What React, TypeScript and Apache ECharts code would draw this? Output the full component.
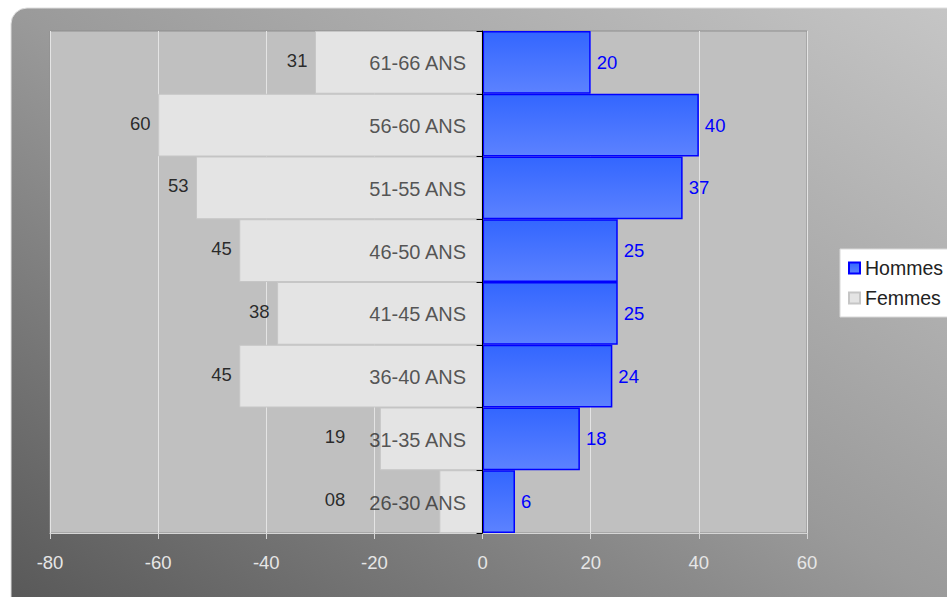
import React, { useEffect, useRef } from "react";
import * as echarts from "echarts";

// Age groups, bottom to top
const categories = [
  "26-30 ANS",
  "31-35 ANS",
  "36-40 ANS",
  "41-45 ANS",
  "46-50 ANS",
  "51-55 ANS",
  "56-60 ANS",
  "61-66 ANS",
];
const hommes = [6, 18, 24, 25, 25, 37, 40, 20];
const femmes = [8, 19, 45, 38, 45, 53, 60, 31];

const axisMin = -80;
const axisMax = 60;
const axisStep = 20;

// Women's value labels never come closer to the centre line than this,
// so they stay clear of the age-group labels.
const femmesLabelFloor = 24;

export default function App() {
  const ref = useRef<HTMLDivElement>(null);

  useEffect(() => {
    if (!ref.current) return;
    const chart = echarts.init(ref.current, null, { renderer: "svg" });
    const font = "Arial, 'Liberation Sans', sans-serif";

    chart.setOption({
      animation: false,
      backgroundColor: "#ffffff",
      textStyle: { fontFamily: font },
      graphic: [
        {
          type: "rect",
          z: -100,
          silent: true,
          shape: { x: 11, y: 8, width: 952, height: 605, r: 16 },
          style: {
            fill: new echarts.graphic.LinearGradient(0, 1, 1, 0, [
              { offset: 0, color: "#575757" },
              { offset: 0.5, color: "#9a9a9a" },
              { offset: 1, color: "#c6c6c6" },
            ]),
            stroke: "#dedede",
            lineWidth: 1,
          },
        },
      ],
      legend: {
        data: ["Hommes", "Femmes"],
        orient: "vertical",
        left: 840,
        top: 249,
        backgroundColor: "#ffffff",
        borderColor: "#d8d8d8",
        borderWidth: 1,
        padding: [9, 8, 9, 8],
        itemWidth: 11,
        itemHeight: 11,
        itemGap: 10,
        icon: "rect",
        textStyle: { color: "#222222", fontSize: 19.5, fontFamily: font },
      },
      grid: {
        left: 50,
        right: 140,
        top: 31,
        bottom: 64,
        containLabel: false,
        outerBoundsMode: "none",
        show: true,
        backgroundColor: "#c0c0c0",
        borderColor: "#8e8e8e",
        borderWidth: 1,
      },
      xAxis: {
        type: "value",
        min: axisMin,
        max: axisMax,
        interval: axisStep,
        axisLine: { show: true, onZero: false, lineStyle: { color: "#d6d6d6" } },
        axisTick: { show: true, length: 6, lineStyle: { color: "#d6d6d6" } },
        axisLabel: { color: "#e6e6e6", fontSize: 18.5, margin: 20, fontFamily: font },
        splitLine: { show: true, lineStyle: { color: "#e4e4e4", width: 1 } },
      },
      yAxis: {
        type: "category",
        data: categories,
        z: 10,
        axisLine: { show: true, onZero: true, lineStyle: { color: "#000000", width: 1 } },
        axisTick: { show: true, length: 6, lineStyle: { color: "#000000" } },
        axisLabel: { show: false },
        splitLine: { show: false },
      },
      series: [
        {
          name: "Hommes",
          type: "bar",
          data: hommes,
          barWidth: "100%",
          barGap: "-100%",
          itemStyle: {
            color: new echarts.graphic.LinearGradient(0, 0, 0, 1, [
              { offset: 0, color: "#3366ff" },
              { offset: 1, color: "#5c82ff" },
            ]),
            borderColor: "#0000ff",
            borderWidth: 1.5,
          },
          label: {
            show: true,
            position: "right",
            distance: 6,
            color: "#0000ff",
            fontSize: 18.5,
            fontFamily: font,
          },
        },
        {
          name: "Femmes",
          type: "bar",
          data: femmes.map((v) => -v),
          barWidth: "100%",
          barGap: "-100%",
          itemStyle: {
            color: "#e4e4e4",
            borderColor: "#c6c6c6",
            borderWidth: 1,
          },
          label: { show: false },
        },
        {
          // women's values, written beside each bar
          name: "Femmes valeurs",
          type: "scatter",
          data: femmes.map((v, i) => [-Math.max(v, femmesLabelFloor), i]),
          symbolSize: 1,
          itemStyle: { color: "rgba(0,0,0,0)" },
          z: 5,
          label: {
            show: true,
            position: "left",
            distance: 7,
            offset: [0, -2],
            color: "#000000",
            fontSize: 18.5,
            fontFamily: font,
            formatter: (p: any) => String(femmes[p.dataIndex]).padStart(2, "0"),
          },
        },
        {
          // age-group names, set against the centre line
          name: "Tranches",
          type: "scatter",
          data: categories.map((_, i) => [0, i]),
          symbolSize: 1,
          itemStyle: { color: "rgba(0,0,0,0)" },
          z: 6,
          label: {
            show: true,
            position: "left",
            distance: 16,
            offset: [0, 1],
            color: "#2e2e2e",
            fontSize: 20,
            fontFamily: font,
            formatter: (p: any) => categories[p.dataIndex],
          },
        },
      ],
    });

    return () => chart.dispose();
  }, []);

  return (
    <div
      ref={ref}
      style={{ position: "absolute", left: 0, top: 0, width: 947, height: 597 }}
    />
  );
}
